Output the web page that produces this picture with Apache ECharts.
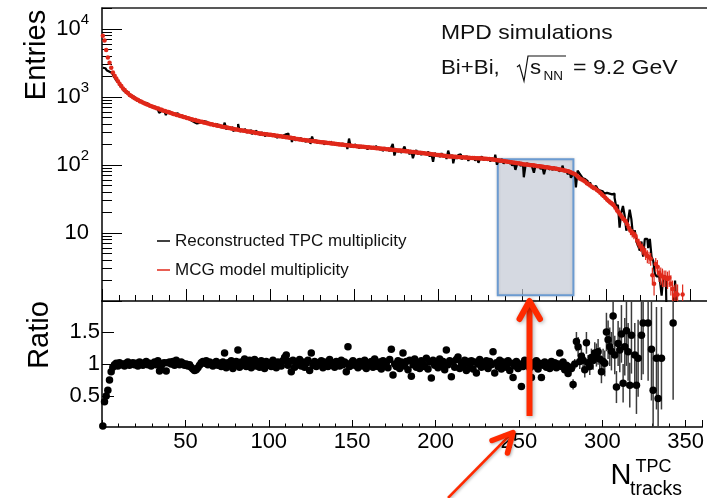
<!DOCTYPE html>
<html><head><meta charset="utf-8">
<script src="https://cdn.jsdelivr.net/npm/echarts@6/dist/echarts.min.js"></script>
<style>html,body{margin:0;padding:0;background:#fff;}#c{width:707px;height:498px;}</style>
</head><body><div id="c"></div>
<script>
// ---- binning ----
const BIN_START = 0, BIN_WIDTH = 1;
const RATIO_TAIL_START = 280, MODEL_TAIL_START = 296;

// ---- Reconstructed TPC multiplicity (entries per bin) ----
const reco = [
2700,2650,2550,2450,2350,2250,2150,2000,1850,1700,
1591,1426,1340,1222,1202,1164,1058,1035,1015,950,
939,873,898,848,809,819,814,757,755,709,
716,722,680,707,587,628,640,634,543,611,
606,577,590,546,580,549,524,536,516,493,
495,472,474,447,426,410,409,415,427,439,
441,422,433,402,413,396,379,394,396,368,
375,352,374,420,334,358,337,360,315,335,
344,400,309,332,316,341,300,316,325,286,
304,319,287,302,276,302,286,264,292,273,
283,264,288,267,252,274,266,253,272,283,
291,247,260,218,261,231,246,237,254,228,
240,219,231,242,203,263,219,231,211,223,
215,227,201,219,211,202,223,203,209,194,
210,203,194,210,195,202,172,245,184,195,
200,185,190,176,193,185,178,194,169,185,
178,186,169,191,178,168,179,159,181,168,
173,159,180,205,138,165,157,171,151,166,
187,154,164,143,165,126,152,165,144,154,
140,156,148,141,159,133,148,112,151,138,
141,131,149,133,141,123,163,133,140,106,
136,124,140,144,121,132,126,136,115,132,
123,133,116,130,108,125,134,118,126,119,
129,113,126,119,142,101,119,111,122,105,
116,110,105,116,98,109,85,103,109,97,
103,66,98,107,99,103,93,77,99,93,
101,87,95,73,91,95,86,90,84,93,
85,89,81,85,98,80,84,74,77,65,
72,70,47,83,76,70,64,62,58,53,
55,50,47,49,46,44,42,41,40,38,
39,38,40,37,38,33,24,26,12,20,
25,18,10.8,15,22,16,9,11,7.5,6.5,
5.5,7.5,4.5,8.2,8.2,6,8.2,4.5,3.9,2.5,
2.3,2.3,2,1.2,2.3,2.3,0.5,0.5,0.5,0.5,
0.5,2,0.5,0.5,0.5,0.5];

// ---- MCG model multiplicity ----
const model = [
8000,6800,4900,3800,3200,2700,2300,2050,1870,1700,
1560,1450,1330,1265,1185,1135,1075,1040,990,962,
928,903,868,851,822,806,780,768,745,734,
713,704,684,676,657,650,631,625,607,602,
585,579,564,560,544,540,526,523,508,505,
493,489,476,473,461,458,447,444,434,432,
422,420,410,408,399,398,389,388,379,378,
371,366,364,358,356,350,348,342,340,334,
332,328,324,323,318,317,312,311,306,305,
302,297,297,292,292,287,287,283,282,278,
278,274,273,269,269,265,264,260,260,256,
256,251,251,247,247,242,242,238,238,234,
233,231,229,228,226,225,223,222,220,219,
217,216,214,213,211,210,208,207,205,204,
202,201,200,198,197,196,195,193,192,191,
190,189,188,187,186,185,184,183,182,181,
180,179,178,177,176,175,174,173,172,171,
170,169,168,167,166,165,164,163,162,161,
160,159,158,157,156,155,154,153,152,151,
150,149,148,147,146,145,144,143,142,141,
140,139,138,137,136,135,134,134,133,132,
132,131,131,130,130,129,129,128,128,127,
127,127,126,126,126,125,125,124,124,123,
123,122,121,120,119,118,117,116,115,114,
113,112,111,110,109,108,107,106,105,104,
103,102,102,101,100,99,99,98,97,96,
96,95,94,93,93,92,91,90,90,89,
88,87,86,85,84,83,82,81,79,77,
75,73,70,66,63,61,59,57,54,52,
50,48,46,45,43,41,39,37,35,33,
31,29.5,28,27,25.5,23.5,21.5,20,18.5,17,
16,15,13.5,12,10.8,10,9.5,9,7.7,7,
6.4,5.9,5.5,5,4.6,4.4,4.2,2.4,1.8,3.5,
3.2,2.6,2.4,2.3,2.2,2.2,2.1,2.2,1.8,1.5,
1.2,1.3,1.25,null,null,1.25];

// model errors, bins from MODEL_TAIL_START
const modelErrTail = [
2.5,2.5,2.4,2.4,
2.3,2.3,2.2,2.2,2.1,2,2,1.9,1.8,1.8,
1.7,1.7,1.6,1.5,1.5,1.4,1.4,1.3,1.2,1.2,
1.1,1.1,1,1,1,0.9,0.9,0.7,0.6,0.8,
0.8,0.7,0.7,0.7,0.6,0.6,0.6,0.6,0.6,0.5,
0.5,0.5,0.5,null,null,0.5];

// ---- Ratio panel ----
const ratio = [
0.03,0.41,0.50,0.59,0.75,0.88,0.95,0.99,1.01,0.97,
1.02,0.99,1.00,0.97,1.01,1.03,0.98,1.00,1.02,0.99,
1.01,0.97,1.03,1.00,0.98,1.02,1.04,0.99,1.01,0.97,
1.00,1.03,0.99,1.05,0.89,0.97,1.01,1.02,0.89,1.02,
1.03,1.00,1.04,0.98,1.06,1.02,0.99,1.03,1.01,0.98,
1.00,0.97,0.99,0.95,0.92,0.90,0.91,0.94,0.98,1.02,
1.04,1.01,1.05,0.99,1.03,1.00,0.97,1.02,1.04,0.98,
1.01,0.96,1.03,1.17,0.94,1.02,0.97,1.05,0.93,1.00,
1.04,1.22,0.95,1.03,0.99,1.08,0.96,1.02,1.06,0.94,
1.01,1.07,0.97,1.03,0.95,1.05,1.00,0.93,1.04,0.98,
1.02,0.96,1.06,0.99,0.94,1.03,1.01,0.97,1.05,1.10,
1.14,0.98,1.04,0.88,1.06,0.95,1.02,0.99,1.07,0.97,
1.03,0.95,1.01,1.06,0.90,1.17,0.98,1.04,0.96,1.02,
0.99,1.05,0.94,1.03,1.00,0.96,1.07,0.98,1.02,0.95,
1.04,1.01,0.97,1.06,0.99,1.03,0.88,1.27,0.96,1.02,
1.05,0.98,1.01,0.94,1.04,1.00,0.97,1.06,0.93,1.02,
0.99,1.04,0.95,1.08,1.01,0.96,1.03,0.92,1.05,0.98,
1.02,0.94,1.07,1.23,0.83,1.00,0.96,1.05,0.93,1.03,
1.17,0.97,1.04,0.91,1.06,0.81,0.99,1.08,0.95,1.02,
0.93,1.05,1.00,0.96,1.09,0.92,1.03,0.78,1.06,0.98,
1.01,0.94,1.08,0.97,1.04,0.91,1.22,0.99,1.05,0.80,
1.03,0.95,1.07,1.11,0.93,1.02,0.98,1.06,0.90,1.04,
0.97,1.05,0.92,1.03,0.86,1.00,1.07,0.95,1.02,0.97,
1.05,0.93,1.04,0.99,1.19,0.86,1.02,0.96,1.06,0.92,
1.03,0.98,0.95,1.05,0.90,1.01,0.79,0.97,1.04,0.93,
1.00,0.65,0.96,1.06,0.99,1.04,0.94,0.79,1.02,0.97,
1.05,0.92,1.01,0.79,0.98,1.03,0.95,1.00,0.93,1.04,
0.97,1.02,0.94,1.00,1.17,0.96,1.03,0.91,0.98,0.85,
0.95,0.93,0.68,1.00,1.35,1.27,1.04,1.12,1.06,0.91,
1.33,1.02,0.96,1.10,1.06,1.17,1.14,1.19,1.08,0.88,
1.04,1.01,1.50,1.38,1.27,1.20,1.75,1.14,0.64,1.32,
1.22,1.47,0.70,1.27,1.52,1.19,0.67,1.45,null,1.14,
0.67,1.09,null,1.45,1.64,null,null,1.64,null,1.23,
0.59,null,1.09,0.46,null,1.09,null,null,null,null,
null,null,1.64,null,null,null];

// ratio errors, bins from RATIO_TAIL_START
const ratioErrTail = [
0.06,0.06,0.08,0.08,0.15,0.15,0.12,0.12,0.12,0.12,
0.17,0.12,0.13,0.14,0.15,0.17,0.18,0.2,0.18,0.18,
0.2,0.2,0.3,0.3,0.3,0.3,0.45,0.3,0.25,0.35,
0.35,0.45,0.3,0.45,0.55,0.45,0.35,0.6,null,0.5,
0.45,0.6,null,0.7,0.8,null,null,0.9,null,0.8,
0.6,null,0.8,0.7,null,0.8,null,null,null,null,
null,null,1.2,null,null,null];

// ---- axes ticks / labels ----
const entriesMajor = [1,10,100,1000,10000];
const entriesMinor = [2,3,4,5,6,7,8,9,20,30,40,50,60,70,80,90,200,300,400,500,600,700,800,900,2000,3000,4000,5000,6000,7000,8000,9000,20000];
const ratioTicks = [0.5,1,1.5];
const legendNames = ['Reconstructed TPC multiplicity','MCG model multiplicity'];

// ---- build series data ----
const center = i => BIN_START + (i + 0.5) * BIN_WIDTH;
const recoData = reco.map((v,i)=>[center(i), v]);
const modelData = [];
model.forEach((v,i)=>{ if (v!=null) modelData.push([center(i), v]); });
const modelErrData = [];
modelErrTail.forEach((e,k)=>{ const i=MODEL_TAIL_START+k; const v=model[i]; if (e!=null && v!=null) modelErrData.push([center(i), v-e, v+e]); });
const ratioData = [];
ratio.forEach((v,i)=>{ if (v!=null) ratioData.push([center(i), v]); });
const ratioErrData = [];
ratioErrTail.forEach((e,k)=>{ const i=RATIO_TAIL_START+k; const v=ratio[i]; if (e!=null && v!=null) ratioErrData.push([center(i), v-e, v+e]); });

const FONT = 'Liberation Sans';
const RED = '#e0281a';

function errRender(color, width, logFloor){
  return function(params, api){
    let lo = api.value(1), hi = api.value(2);
    if (logFloor && lo <= 0) lo = logFloor;
    const p1 = api.coord([api.value(0), lo]);
    const p2 = api.coord([api.value(0), hi]);
    return {type:'line', shape:{x1:p1[0],y1:p1[1],x2:p2[0],y2:p2[1]}, style:{stroke:color, lineWidth:width}};
  };
}
function txt(x, y, text, size, extra){
  return Object.assign({type:'text', x:x, y:y, z:50,
    style:{text:text, font:size+'px "'+FONT+'"', fill:'#111', align:'left', verticalAlign:'middle', textAlign:'left', textVerticalAlign:'middle'}}, extra||{});
}

const chart = echarts.init(document.getElementById('c'), null, {renderer:'canvas'});
const axisBlack = {color:'#000', width:1.5};
chart.setOption({
  animation:false,
  backgroundColor:'#fff',
  textStyle:{fontFamily:FONT},
  grid:[
    {left:102, top:8, width:608, height:293},
    {left:102, top:301, width:608, height:126}
  ],
  legend:{
    orient:'vertical', left:152, top:227, itemWidth:13, itemHeight:1.5, icon:'rect',
    itemGap:11, selectedMode:false,
    textStyle:{fontSize:17, fontFamily:FONT, color:'#111', lineHeight:18, padding:[0,0,0,0]},
    data:legendNames
  },
  xAxis:[
    {type:'value', gridIndex:0, min:0, max:360, interval:50,
     axisLine:{lineStyle:axisBlack}, axisTick:{inside:true, length:12, lineStyle:{color:'#000'}},
     minorTick:{show:true, splitNumber:5, length:6, lineStyle:{color:'#000'}},
     axisLabel:{show:false}, splitLine:{show:false}},
    {type:'value', gridIndex:0, position:'top', min:0, max:360,
     axisLine:{show:true, onZero:false, lineStyle:{color:'#222', width:1.5}}, axisTick:{show:false},
     axisLabel:{show:false}, splitLine:{show:false}},
    {type:'value', gridIndex:1, min:0, max:360, interval:50,
     axisLine:{lineStyle:axisBlack}, axisTick:{inside:true, length:7, lineStyle:{color:'#000'}},
     minorTick:{show:true, splitNumber:5, length:3.5, lineStyle:{color:'#000'}},
     axisLabel:{fontSize:22, fontFamily:FONT, color:'#000', margin:4, formatter:v=> v===0?'':String(v)},
     splitLine:{show:false}}
  ],
  yAxis:[
    {type:'log', gridIndex:0, logBase:10, min:1, max:20400,
     axisLine:{show:true, lineStyle:axisBlack},
     axisTick:{inside:true, length:20, lineStyle:{color:'#000'}, customValues:entriesMajor},
     axisLabel:{margin:13, customValues:entriesMajor,
       formatter:v=>{const e=Math.round(Math.log10(v)); if(e===0) return ''; if(e===1) return '{b|10}'; return '{b|10}{p|'+e+'}';},
       rich:{b:{fontSize:22, fontFamily:FONT, color:'#000', lineHeight:34},
             p:{fontSize:15, fontFamily:FONT, color:'#000', lineHeight:22, verticalAlign:'top'}}},
     splitLine:{show:false}},
    {type:'log', gridIndex:0, logBase:10, min:1, max:20400, position:'left',
     axisLine:{show:false}, axisLabel:{show:false},
     axisTick:{inside:true, length:10, lineStyle:{color:'#000'}, customValues:entriesMinor},
     splitLine:{show:false}},
    {type:'value', gridIndex:1, min:0.016, max:1.984,
     axisLine:{show:true, lineStyle:axisBlack},
     axisTick:{inside:true, length:12, lineStyle:{color:'#000'}, customValues:ratioTicks},
     axisLabel:{fontSize:22, fontFamily:FONT, color:'#000', margin:2, customValues:ratioTicks, formatter:v=>String(v)},
     splitLine:{show:false}}
  ],
  series:[
    {name:legendNames[0], type:'line', xAxisIndex:0, yAxisIndex:0, data:recoData, step:'middle',
     symbol:'none', connectNulls:false, clip:true, color:'#000', lineStyle:{color:'#000', width:2.2}, z:2},
    {name:legendNames[1]+'_err', type:'custom', xAxisIndex:0, yAxisIndex:0, data:modelErrData, clip:true,
     renderItem:errRender(RED,1.2,0.3), encode:{x:0, y:[1,2]}, z:3},
    {name:legendNames[1], type:'scatter', xAxisIndex:0, yAxisIndex:0, data:modelData, symbol:'circle',
     symbolSize:4.5, color:RED, itemStyle:{color:RED, opacity:1}, clip:true, z:4},
    {name:'box', type:'line', xAxisIndex:0, yAxisIndex:0, data:[], z:6,
     markArea:{silent:true,
       itemStyle:{color:'rgba(206,213,225,0.66)', opacity:1, borderColor:'#6b9bd1', borderWidth:2,
                  shadowBlur:3, shadowColor:'rgba(0,0,0,0.18)'},
       data:[[{xAxis:235.5, yAxis:122},{xAxis:280.5, yAxis:1.22}]]}},
    {name:'ratioErr', type:'custom', xAxisIndex:2, yAxisIndex:2, data:ratioErrData, clip:true,
     renderItem:errRender('#3c3c3c',1.5,null), encode:{x:0, y:[1,2]}, z:3},
    {name:'ratio', type:'scatter', xAxisIndex:2, yAxisIndex:2, data:ratioData, symbol:'circle',
     symbolSize:7.5, itemStyle:{color:'#000', opacity:1}, clip:true, z:4}
  ],
  graphic:[
    {type:'text', x:36.5, y:55, rotation:Math.PI/2, z:50,
     style:{text:'Entries', font:'29px "'+FONT+'"', fill:'#000', align:'center', verticalAlign:'middle', textAlign:'center', textVerticalAlign:'middle'}},
    {type:'text', x:40, y:335, rotation:Math.PI/2, z:50,
     style:{text:'Ratio', font:'29px "'+FONT+'"', fill:'#000', align:'center', verticalAlign:'middle', textAlign:'center', textVerticalAlign:'middle'}},
    txt(441, 33, 'MPD simulations', 21, {scaleX:1.09}),
    txt(441, 68, 'Bi+Bi,', 21, {scaleX:1.06}),
    {type:'polyline', z:50, shape:{points:[[517,67],[519.5,65],[524,81],[528,56],[566,56]]},
     style:{stroke:'#111', lineWidth:1.2, fill:null}},
    txt(530, 68, 's', 21, {scaleX:1.06}),
    txt(543.5, 76, 'NN', 13.5),
    txt(573, 68, '= 9.2 GeV', 21, {scaleX:1.1}),
    {type:'text', x:610.5, y:476, z:50,
     style:{text:'N', font:'29px "'+FONT+'"', fill:'#000', align:'left', verticalAlign:'middle', textAlign:'left', textVerticalAlign:'middle'}},
    {type:'text', x:635.5, y:467, z:50,
     style:{text:'TPC', font:'18px "'+FONT+'"', fill:'#000', align:'left', verticalAlign:'middle', textAlign:'left', textVerticalAlign:'middle'}},
    {type:'text', x:630, y:490, z:50,
     style:{text:'tracks', font:'19.5px "'+FONT+'"', fill:'#000', align:'left', verticalAlign:'middle', textAlign:'left', textVerticalAlign:'middle'}},
    // annotation arrows
    {type:'line', z:60, shape:{x1:529.5, y1:416, x2:529.5, y2:304},
     style:{stroke:'#ff2a00', lineWidth:6, lineCap:'butt', shadowBlur:4, shadowColor:'rgba(0,0,0,0.35)', shadowOffsetX:1, shadowOffsetY:1}},
    {type:'polyline', z:60, shape:{points:[[519.5,319],[529.5,301],[540,319]]},
     style:{stroke:'#ff2a00', lineWidth:6, lineCap:'round', lineJoin:'round', fill:null, shadowBlur:4, shadowColor:'rgba(0,0,0,0.35)', shadowOffsetX:1, shadowOffsetY:1}},
    {type:'line', z:60, shape:{x1:448, y1:498, x2:510, y2:435},
     style:{stroke:'#ff2a00', lineWidth:2.5, shadowBlur:3, shadowColor:'rgba(0,0,0,0.3)', shadowOffsetX:1, shadowOffsetY:1}},
    {type:'polyline', z:60, shape:{points:[[492,440.5],[513,432.5],[507.5,453]]},
     style:{stroke:'#ff2a00', lineWidth:5.5, lineCap:'round', lineJoin:'round', fill:null, shadowBlur:3, shadowColor:'rgba(0,0,0,0.3)', shadowOffsetX:1, shadowOffsetY:1}}
  ]
});
</script></body></html>
